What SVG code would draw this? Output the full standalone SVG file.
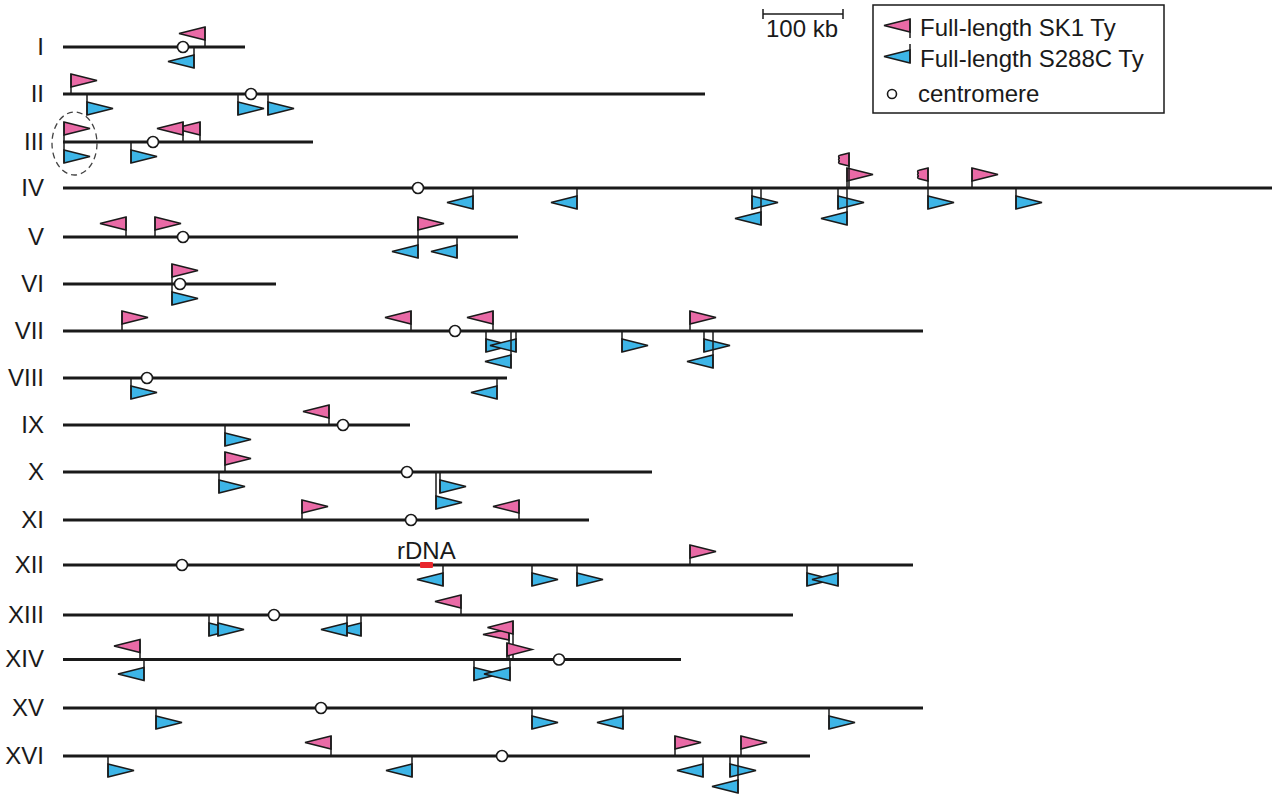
<svg xmlns="http://www.w3.org/2000/svg" xmlns:xlink="http://www.w3.org/1999/xlink" width="1279" height="800" viewBox="0 0 1279 800">
<style>
.chr{stroke:#1a1a1a;stroke-width:3.2;fill:none}
.pole{stroke:#1a1a1a;stroke-width:1.5}
.pk{fill:#e96aa6;stroke:#1a1a1a;stroke-width:1.5}
.bl{fill:#3db5e7;stroke:#1a1a1a;stroke-width:1.5}
.cen{fill:#fff;stroke:#1a1a1a;stroke-width:1.6}
.lab{font-family:"Liberation Sans",Arial,sans-serif;font-size:24px;fill:#1a1a1a}
.end{text-anchor:end}
</style>
<defs>
<g id="pR"><polygon class="pk" points="0,-20 26,-13.5 0,-7"/><line class="pole" x1="0" y1="0" x2="0" y2="-20"/></g>
<g id="pL"><polygon class="pk" points="0,-20 -26,-13.5 0,-7"/><line class="pole" x1="0" y1="0" x2="0" y2="-20"/></g>
<g id="bR"><polygon class="bl" points="0,8 26,14.5 0,21"/><line class="pole" x1="0" y1="0" x2="0" y2="21"/></g>
<g id="bL"><polygon class="bl" points="0,8 -26,14.5 0,21"/><line class="pole" x1="0" y1="0" x2="0" y2="21"/></g>
<g id="bR2"><polygon class="bl" points="0,24 26,30.5 0,37"/><line class="pole" x1="0" y1="0" x2="0" y2="37"/></g>
<g id="bL2"><polygon class="bl" points="0,24 -26,30.5 0,37"/><line class="pole" x1="0" y1="0" x2="0" y2="37"/></g>
</defs>
<rect width="1279" height="800" fill="#fff"/>

<g id="legend">
<rect x="873" y="5" width="291" height="108" fill="none" stroke="#1a1a1a" stroke-width="1.5"/>
<polygon class="pk" points="910,19 884,25.5 910,32"/><line class="pole" x1="910" y1="19" x2="910" y2="38"/>
<text class="lab" x="920" y="36">Full-length SK1 Ty</text>
<polygon class="bl" points="910,50 884,56.5 910,63"/><line class="pole" x1="910" y1="44" x2="910" y2="63"/>
<text class="lab" x="920" y="67">Full-length S288C Ty</text>
<circle class="cen" cx="892" cy="94" r="4.5"/>
<text class="lab" x="918" y="102">centromere</text>
</g>

<g id="scalebar">
<line class="pole" x1="763" y1="14" x2="843" y2="14"/>
<line class="pole" x1="763" y1="9" x2="763" y2="19"/>
<line class="pole" x1="843" y1="9" x2="843" y2="19"/>
<text class="lab" x="802" y="37" text-anchor="middle">100 kb</text>
</g>

<g id="chrI">
<text class="lab end" x="44" y="55">I</text>
<line class="chr" x1="63" y1="47" x2="245" y2="47"/>
<use href="#pL" x="205" y="47"/>
<use href="#bL" x="194" y="47"/>
<circle class="cen" cx="183" cy="47" r="5.5"/>
</g>

<g id="chrII">
<text class="lab end" x="44" y="102">II</text>
<line class="chr" x1="63" y1="94" x2="705" y2="94"/>
<use href="#pR" x="71" y="94"/>
<use href="#bR" x="87" y="94"/>
<use href="#bR" x="238" y="94"/>
<use href="#bR" x="268" y="94"/>
<circle class="cen" cx="251" cy="94" r="5.5"/>
</g>

<g id="chrIII">
<text class="lab end" x="44" y="150">III</text>
<line class="chr" x1="63" y1="142" x2="313" y2="142"/>
<use href="#pR" x="64" y="142"/>
<use href="#bR" x="64" y="142"/>
<use href="#bR" x="131" y="142"/>
<use href="#pL" x="200" y="142"/>
<use href="#pL" x="183" y="142"/>
<circle class="cen" cx="153" cy="142" r="5.5"/>
<ellipse cx="74.5" cy="143.5" rx="22.5" ry="31.5" fill="none" stroke="#444" stroke-width="1.3" stroke-dasharray="6 4"/>
</g>

<g id="chrIV">
<text class="lab end" x="44" y="196">IV</text>
<line class="chr" x1="63" y1="188" x2="1272" y2="188"/>
<use href="#bL" x="473" y="188"/>
<use href="#bL" x="577" y="188"/>
<use href="#bR" x="752" y="188"/>
<use href="#bL2" x="761" y="188"/>
<use href="#bR" x="838" y="188"/>
<use href="#bL2" x="847" y="188"/>
<use href="#pR" x="847" y="188"/>
<path class="pk" d="M849,153 L840,155.3 a1.4,1.4 0 0 0 0,2.8 a1.4,1.4 0 0 0 0,2.8 a1.4,1.4 0 0 0 0,2.8 L849,166 Z"/>
<line class="pole" x1="849" y1="188" x2="849" y2="153"/>
<path class="pk" d="M928,168 L919,170.3 a1.4,1.4 0 0 0 0,2.8 a1.4,1.4 0 0 0 0,2.8 a1.4,1.4 0 0 0 0,2.8 L928,181 Z"/>
<line class="pole" x1="928" y1="188" x2="928" y2="168"/>
<use href="#bR" x="928" y="188"/>
<use href="#pR" x="972" y="188"/>
<use href="#bR" x="1016" y="188"/>
<circle class="cen" cx="418" cy="188" r="5.5"/>
</g>

<g id="chrV">
<text class="lab end" x="44" y="245">V</text>
<line class="chr" x1="63" y1="237" x2="518" y2="237"/>
<use href="#pL" x="126" y="237"/>
<use href="#pR" x="155" y="237"/>
<use href="#pR" x="418" y="237"/>
<use href="#bL" x="418" y="237"/>
<use href="#bL" x="457" y="237"/>
<circle class="cen" cx="183" cy="237" r="5.5"/>
</g>

<g id="chrVI">
<text class="lab end" x="44" y="292">VI</text>
<line class="chr" x1="63" y1="284" x2="276" y2="284"/>
<use href="#pR" x="172" y="284"/>
<use href="#bR" x="172" y="284"/>
<circle class="cen" cx="180" cy="284" r="5.5"/>
</g>

<g id="chrVII">
<text class="lab end" x="44" y="339">VII</text>
<line class="chr" x1="63" y1="331" x2="923" y2="331"/>
<use href="#pR" x="122" y="331"/>
<use href="#pL" x="411" y="331"/>
<use href="#pL" x="493" y="331"/>
<use href="#bR" x="486" y="331"/>
<use href="#bL" x="516" y="331"/>
<use href="#bL2" x="511" y="331"/>
<use href="#bR" x="622" y="331"/>
<use href="#pR" x="690" y="331"/>
<use href="#bR" x="704" y="331"/>
<use href="#bL2" x="713" y="331"/>
<circle class="cen" cx="455" cy="331" r="5.5"/>
</g>

<g id="chrVIII">
<text class="lab end" x="44" y="386">VIII</text>
<line class="chr" x1="63" y1="378" x2="507" y2="378"/>
<use href="#bR" x="131" y="378"/>
<use href="#bL" x="497" y="378"/>
<circle class="cen" cx="147" cy="378" r="5.5"/>
</g>

<g id="chrIX">
<text class="lab end" x="44" y="433">IX</text>
<line class="chr" x1="63" y1="425" x2="410" y2="425"/>
<use href="#pL" x="329" y="425"/>
<use href="#bR" x="225" y="425"/>
<circle class="cen" cx="343" cy="425" r="5.5"/>
</g>

<g id="chrX">
<text class="lab end" x="44" y="480">X</text>
<line class="chr" x1="63" y1="472" x2="652" y2="472"/>
<use href="#pR" x="225" y="472"/>
<use href="#bR" x="219" y="472"/>
<use href="#bR" x="440" y="472"/>
<use href="#bR2" x="436" y="472"/>
<circle class="cen" cx="407" cy="472" r="5.5"/>
</g>

<g id="chrXI">
<text class="lab end" x="44" y="528">XI</text>
<line class="chr" x1="63" y1="520" x2="589" y2="520"/>
<use href="#pR" x="302" y="520"/>
<use href="#pL" x="519" y="520"/>
<circle class="cen" cx="411" cy="520" r="5.5"/>
</g>

<g id="chrXII">
<text class="lab end" x="44" y="573">XII</text>
<line class="chr" x1="63" y1="565" x2="913" y2="565"/>
<text class="lab" x="397" y="559">rDNA</text>
<use href="#bL" x="443" y="565"/>
<use href="#bR" x="532" y="565"/>
<use href="#bR" x="577" y="565"/>
<use href="#pR" x="690" y="565"/>
<use href="#bR" x="807" y="565"/>
<use href="#bL" x="838" y="565"/>
<rect x="420" y="562" width="13" height="6" rx="1" fill="#e8262c"/>
<circle class="cen" cx="182" cy="565" r="5.5"/>
</g>

<g id="chrXIII">
<text class="lab end" x="44" y="623">XIII</text>
<line class="chr" x1="63" y1="615" x2="793" y2="615"/>
<use href="#pL" x="461" y="615"/>
<use href="#bR" x="209" y="615"/>
<use href="#bR" x="218" y="615"/>
<use href="#bL" x="361" y="615"/>
<use href="#bL" x="347" y="615"/>
<circle class="cen" cx="274" cy="615" r="5.5"/>
</g>

<g id="chrXIV">
<text class="lab end" x="44" y="667">XIV</text>
<line class="chr" x1="63" y1="659.5" x2="681" y2="659.5"/>
<use href="#pL" x="140" y="659.5"/>
<use href="#bL" x="144" y="659.5"/>
<polygon class="pk" points="509,629 483,634.5 509,640"/>
<line class="pole" x1="509" y1="659.5" x2="509" y2="629"/>
<polygon class="pk" points="513,621 487.5,627.5 513,634"/>
<line class="pole" x1="513" y1="659.5" x2="513" y2="621"/>
<polygon class="pk" points="507,643 532,649.5 507,656"/>
<line class="pole" x1="507" y1="659.5" x2="507" y2="643"/>
<use href="#bR" x="474" y="659.5"/>
<use href="#bL" x="510" y="659.5"/>
<circle class="cen" cx="559" cy="659.5" r="5.5"/>
</g>

<g id="chrXV">
<text class="lab end" x="44" y="716">XV</text>
<line class="chr" x1="63" y1="708" x2="923" y2="708"/>
<use href="#bR" x="156" y="708"/>
<use href="#bR" x="532" y="708"/>
<use href="#bL" x="623" y="708"/>
<use href="#bR" x="829" y="708"/>
<circle class="cen" cx="321" cy="708" r="5.5"/>
</g>

<g id="chrXVI">
<text class="lab end" x="44" y="764">XVI</text>
<line class="chr" x1="63" y1="756" x2="810" y2="756"/>
<use href="#bR" x="108" y="756"/>
<use href="#pL" x="331" y="756"/>
<use href="#bL" x="412" y="756"/>
<use href="#pR" x="675" y="756"/>
<use href="#pR" x="741" y="756"/>
<use href="#bL" x="703" y="756"/>
<use href="#bR" x="730" y="756"/>
<use href="#bL2" x="738" y="756"/>
<circle class="cen" cx="502" cy="756" r="5.5"/>
</g>
</svg>
